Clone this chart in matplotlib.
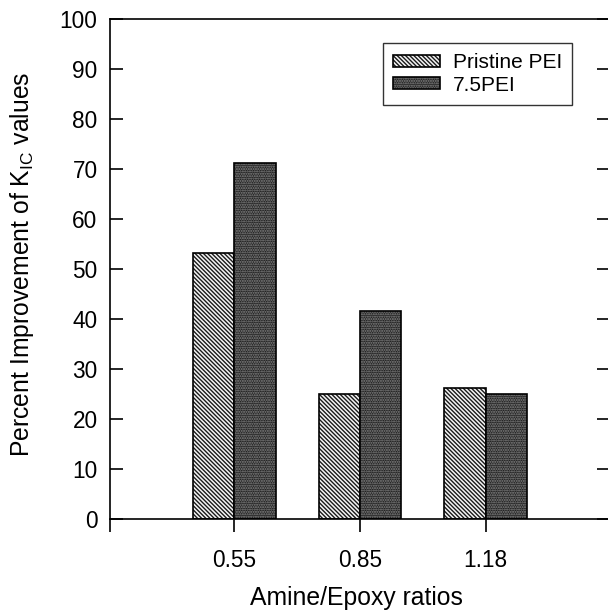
import matplotlib
matplotlib.use("Agg")
from matplotlib import pyplot as plt
from matplotlib.patches import Patch
from matplotlib.legend_handler import HandlerTuple
import numpy as np

# data
ratios = ["0.55", "0.85", "1.18"]
pristine_pei = [53.2, 25.0, 26.2]
pei_75 = [71.2, 41.6, 25.0]
series_names = ["Pristine PEI", "7.5PEI"]

plt.rcParams["font.family"] = ["Liberation Sans", "DejaVu Sans"]
plt.rcParams["hatch.linewidth"] = 1.0

fig = plt.figure(figsize=(6.08, 6.12), dpi=100)
ax = fig.add_axes([110 / 608, 93 / 612, 500 / 608, 500 / 612])

x = np.arange(len(ratios))
w = 0.33

# hatched fill first, black outline on top
styles = [
    dict(facecolor="#f4f4f4", edgecolor="#1a1a1a", hatch="\\" * 8),
    dict(facecolor="#202020", edgecolor="#8c8c8c", hatch="." * 7),
]
handles = []
for i, vals in enumerate([pristine_pei, pei_75]):
    pos = x + (i - 0.5) * w
    ax.bar(pos, vals, w, linewidth=0, **styles[i])
    ax.bar(pos, vals, w, fill=False, edgecolor="black", linewidth=1.2)
    handles.append((Patch(linewidth=0, **styles[i]),
                    Patch(fill=False, edgecolor="black", linewidth=1.2)))

ax.set_xlim(-0.992, 2.992)
ax.set_ylim(0, 100)
ax.set_yticks(np.arange(0, 101, 10))
ax.set_xticks([-0.992, 0, 1, 2])
ax.set_xticklabels([""] + ratios)

ax.tick_params(axis="y", direction="in", length=9.5, width=1.2,
               labelsize=16.3, right=True, pad=9)
ax.tick_params(axis="x", direction="out", length=9.5, width=1.2,
               labelsize=16.3, pad=12)

ax.spines["right"].set_visible(False)
for s in ["left", "bottom", "top"]:
    ax.spines[s].set_linewidth(1.2)

leg = ax.legend(handles, series_names, handler_map={tuple: HandlerTuple(ndivide=1)},
                loc="upper left", bbox_to_anchor=(273 / 500, 0.952),
                fontsize=15, frameon=True, fancybox=False, edgecolor="black",
                handlelength=2.26, handleheight=0.48, handletextpad=0.58,
                labelspacing=0.15, borderpad=0.5, borderaxespad=0)
leg.get_frame().set_linewidth(1.0)

fig.text(22 / 608, 1 - 264 / 612,
         "Percent Improvement of $\\mathregular{K_{IC}}$ values",
         rotation=90, ha="center", va="center", fontsize=17.8)
fig.text(356 / 608, 7 / 612, "Amine/Epoxy ratios",
         ha="center", va="baseline", fontsize=17.8)

fig.savefig("out.png", dpi=100)
